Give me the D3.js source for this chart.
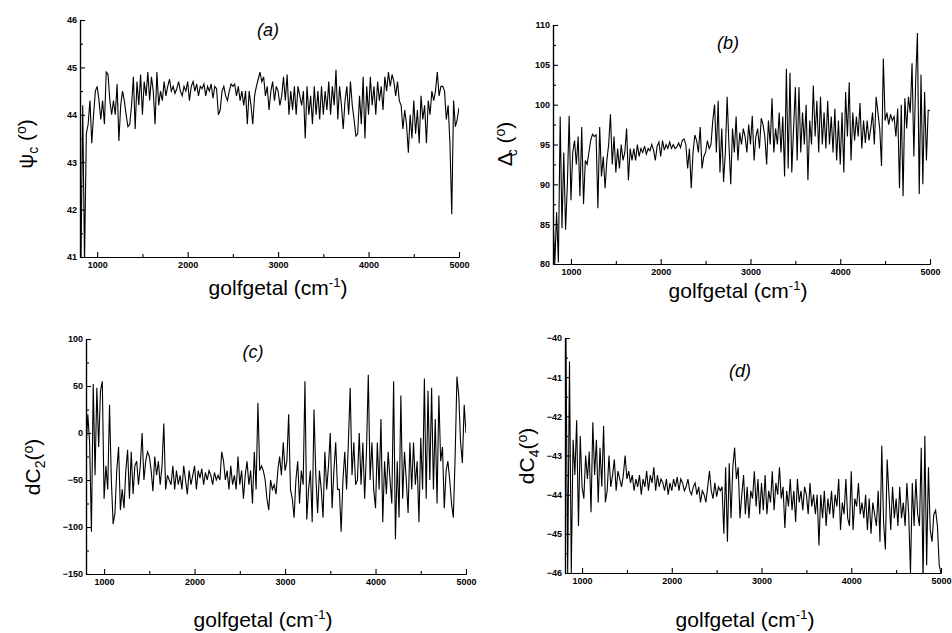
<!DOCTYPE html>
<html>
<head>
<meta charset="utf-8">
<script src="https://cdn.jsdelivr.net/npm/d3@7"></script>
<style>
  body { margin: 0; background: #fff; }
  svg { display: block; }
  text { font-family: "Liberation Sans", Arial, sans-serif; fill: #000; }
</style>
</head>
<body>
<svg id="chart" width="952" height="633"></svg>
<script>
// Sampling grid of the spectra (wavenumber, cm-1)
const wavenumbers = d3.range(800, 5001, 20);

// (a) Psi_c in degrees
const psiC = [
  44.2, 40.8, 44.2, 40.9, 43.6, 43.8, 44.3, 43.4, 44.0, 44.5,
  44.6, 44.3, 43.9, 44.3, 43.8, 44.9, 44.85, 44.3, 44.0, 44.3,
  44.0, 44.65, 43.45, 44.2, 44.5, 44.3, 44.0, 43.75, 43.8, 44.2,
  44.8, 43.7, 44.7, 44.2, 44.85, 44.0, 44.7, 44.4, 44.9, 44.3,
  44.8, 44.5, 43.8, 44.9, 44.2, 44.5, 44.3, 44.7, 44.4, 44.6,
  44.75, 44.5, 44.6, 44.45, 44.55, 44.7, 44.5, 44.4, 44.6, 44.5,
  44.7, 44.3, 44.6, 44.7, 44.5, 44.65, 44.4, 44.6, 44.55, 44.65,
  44.4, 44.6, 44.5, 44.65, 44.35, 44.6, 44.55, 44.0, 44.1, 44.5,
  44.6, 44.4, 44.3, 44.5, 44.65, 44.6, 44.65, 44.4, 44.6, 44.3,
  44.5, 44.2, 44.5, 43.8, 44.5, 44.2, 43.8, 44.4, 44.6, 44.75,
  44.9, 44.7, 44.8, 44.4, 44.6, 44.1, 44.5, 44.7, 44.3, 44.6,
  44.5, 44.2, 44.4, 44.8, 44.3, 44.85, 44.0, 44.5, 44.1, 44.6,
  44.0, 44.6, 44.4, 44.2, 44.5, 43.5, 44.6, 44.0, 44.4, 43.8,
  44.6, 44.0, 44.5, 43.9, 44.6, 44.0, 44.5, 44.1, 44.7, 44.0,
  44.6, 44.2, 44.95, 43.9, 44.6, 44.2, 43.7, 44.3, 44.6, 44.0,
  44.7, 44.2, 43.9, 43.55, 43.6, 44.4, 43.8, 44.8, 43.5, 44.6,
  44.0, 44.8, 44.2, 44.6, 44.0, 44.7, 44.3, 44.6, 44.1, 44.8,
  44.5, 44.9, 44.6, 44.85, 44.7, 44.4, 44.7, 44.3, 44.2, 43.7,
  44.1, 43.8, 43.2, 44.0, 43.5, 44.3, 43.6, 44.1, 43.4, 44.4,
  43.9, 44.2, 43.4, 44.3, 44.0, 44.5, 44.3, 44.5, 44.9, 44.4,
  44.6, 44.6, 44.5, 43.9, 44.2, 43.4, 41.9, 44.3, 43.75, 43.9,
  44.15
];

// (b) Delta_c in degrees
const deltaC = [
  86, 80, 86.5, 80.2, 98.5, 84.5, 94, 84.3, 90, 98.6,
  88, 94, 95.5, 92.5, 96, 88.5, 97.2, 87.5, 93, 92.5,
  94, 95.5, 96.3, 96, 96.2, 87, 97.2, 91, 93.5, 89.5,
  93, 95, 98.8, 92.5, 96, 91.5, 94.5, 92, 95, 93,
  94, 97, 90.5, 94.5, 93, 94.5, 93, 95, 93.5, 94.5,
  94, 94.8, 93.8, 94.5, 94.2, 95, 94.3, 93, 94.8, 95.3,
  93.5, 95.5, 94.3, 95, 94.5, 95.3, 94.5, 95, 94.5, 94.7,
  95.2, 94.6, 95.5, 95.7, 95.0, 92, 94.5, 89.5, 94, 96.2,
  95.5, 94, 97.2, 92, 93.5, 94, 95.5, 94.5, 95, 98,
  100, 94, 100.5, 91.5, 97, 90.3, 94, 101, 95, 90,
  97, 94, 98.5, 93, 96.5, 95, 97, 96, 94, 97.5,
  95, 98.6, 93, 96, 97, 94.5, 98.3, 97.5, 96, 92.5,
  98, 95, 100.8, 94, 97, 95, 99, 94, 98.5, 91,
  104.5, 92, 104, 91.5, 97, 102.2, 93, 102.2, 94, 99,
  95, 100, 90.5, 98, 95, 102.4, 96, 100.5, 94, 101,
  95, 99, 94.5, 100.5, 95, 98.5, 94, 99.5, 93, 98,
  92.5, 99, 91.5, 101.6, 96, 102.8, 93, 99, 95.5, 98.5,
  96, 100.2, 94.5, 98, 95.2, 98, 95.5, 97, 99, 95,
  101, 99, 97, 92.3, 105.8, 98, 99, 97.5, 98.8, 98,
  98.5, 96, 99.5, 89.5, 100, 88.5, 100.8, 97, 101, 99,
  105.2, 93.5, 102.8, 109, 88.8, 103.8, 90, 101.6, 93, 99.3,
  99.3
];

// (c) dC2 in degrees
const dC2 = [
  -20, 20, -10, -105, 52, -45, 48, -15, 45, 55,
  -70, -35, -60, 30, -50, -97, -85, -40, -15, -82,
  -60, -80, -40, -18, -70, -20, -65, -35, -30, -55,
  -35, 0, -50, -30, -20, -25, -40, -62, -25, -45,
  -30, -55, -35, 10, -60, -45, -50, -55, -35, -60,
  -40, -55, -45, -60, -35, -50, -65, -40, -55, -45,
  -35, -60, -40, -48, -38, -55, -42, -50, -40, -45,
  -55, -42, -50, -45, -50, -20, -30, -50, -40, -60,
  -35, -55, -45, -60, -25, -55, -40, -70, -45, -30,
  -55, -40, -75, -20, -60, 32, -40, -35, -40, -50,
  -70, -82, -50, -60, -55, -65, -40, -25, -45, -10,
  -40, -30, 20, -60, -70, -90, -50, -30, -75, -40,
  -55, 55, -92, -60, -40, -95, 25, -45, -85, -40,
  -60, -90, -20, -60, -35, 0, -80, -40, -10, -60,
  -60, -105, -50, -20, -60, -10, 48, -45, -10, -55,
  -50, 0, -55, -10, -70, -20, 62, -50, -10, -60,
  -80, -10, -60, 15, -95, -30, -65, -20, -50, -75,
  55, -113, -30, -90, 40, -70, -20, -50, -85, -10,
  -60, -10, -55, -30, -95, -5, -60, 58, -70, 45,
  -50, 48, -60, 15, -75, 40, -30, -15, -80, -40,
  -30, -50, -75, -90, -25, 60, 40, -10, -32, 30,
  0
];

// (d) dC4 in degrees
const dC4 = [
  -46, -40, -46, -40.6, -46, -42.6, -43.5, -42.1, -44.8, -42.5,
  -43.8, -44.1, -43.0, -43.6, -42.9, -44.45, -42.15, -43.5, -42.6, -44.2,
  -42.8, -43.8, -42.25, -44.2, -43.9, -43.0, -43.8, -43.5, -43.1, -43.9,
  -43.4, -43.6, -43.8, -43.5, -43.0, -43.6, -43.4, -43.7, -43.5, -43.9,
  -43.6, -43.8, -43.5, -44.0, -43.6, -43.8, -43.4, -43.9, -43.5, -43.7,
  -43.3, -43.9, -43.5, -43.8, -43.6, -43.7, -43.9, -43.6, -44.0, -43.7,
  -43.9, -43.6, -43.8, -43.55, -43.9, -43.6, -43.7, -43.9, -43.8, -43.6,
  -43.9, -44.0, -43.8, -43.7, -44.0, -43.8, -44.2, -43.9, -44.0, -44.2,
  -43.8, -43.4, -43.9, -44.1, -43.7, -44.05, -43.8, -43.9, -43.8, -45.0,
  -43.3, -45.2, -43.2, -44.6, -43.3, -42.8, -43.6, -43.3, -44.6, -44.0,
  -43.5, -44.5, -43.8, -44.6, -43.9, -44.1, -43.4, -44.3, -43.6, -44.5,
  -43.7, -44.4, -43.5, -44.5, -43.9, -44.2, -43.4, -44.4, -43.7, -44.0,
  -43.3, -44.1, -43.8, -44.85, -43.9, -44.3, -43.6, -44.4, -43.9, -44.7,
  -43.6, -44.2, -43.9, -44.4, -43.8, -44.0, -44.5, -43.7, -44.3, -44.0,
  -44.5, -44.0, -45.3, -44.0, -44.6, -43.9, -44.8, -44.1, -44.5, -43.9,
  -44.6, -44.0, -44.3, -43.6, -44.9, -44.2, -44.5, -43.6, -44.6, -44.8,
  -43.4, -44.9, -44.1, -44.3, -43.7, -44.5, -44.2, -44.6, -44.0, -44.9,
  -44.1, -45.0, -44.2, -44.5, -44.8, -43.9, -45.2, -42.75, -44.7, -45.4,
  -43.1, -44.0, -44.9, -43.8, -44.6, -44.1, -44.8, -43.8, -44.6, -44.2,
  -44.8, -43.7, -44.5, -46.0, -43.7, -44.8, -43.6, -44.5, -44.8, -42.8,
  -46.2, -42.5, -45.8, -43.3, -44.9, -45.2, -44.5, -44.4, -44.8, -45.8,
  -46.0
];

// Tick values
const xTicks = [1000, 2000, 3000, 4000, 5000];
const xMinorTicks = [1500, 2500, 3500, 4500];
const psiTicks = [41, 42, 43, 44, 45, 46];
const psiMinor = [41.5, 42.5, 43.5, 44.5, 45.5];
const deltaTicks = [80, 85, 90, 95, 100, 105, 110];
const deltaMinor = [82.5, 87.5, 92.5, 97.5, 102.5, 107.5];
const dC2Ticks = [-150, -100, -50, 0, 50, 100];
const dC2Minor = [-125, -75, -25, 25, 75];
const dC4Ticks = [-46, -45, -44, -43, -42, -41, -40];
const dC4Minor = [-45.5, -44.5, -43.5, -42.5, -41.5, -40.5];

const xLabel = "golfgetal (cm";

const panels = [
  { key: "a", values: psiC, yTicks: psiTicks, yMinor: psiMinor,
    xDomain: [810, 5000], yDomain: [41, 46],
    left: 80, right: 459, top: 20, bottom: 257,
    tag: [268, 36], xTitle: [278, 295], yTitle: [33, 144],
    sym: "\u03C8", sub: "c", subDx: 0, ySpace: " (" },
  { key: "b", values: deltaC, yTicks: deltaTicks, yMinor: deltaMinor,
    xDomain: [800, 5000], yDomain: [80, 110],
    left: 553, right: 930, top: 25, bottom: 264,
    tag: [728, 49], xTitle: [738, 298], yTitle: [512, 144],
    sym: "\u0394", sub: "c", subDx: -4, ySpace: " (" },
  { key: "c", values: dC2, yTicks: dC2Ticks, yMinor: dC2Minor,
    xDomain: [800, 5000], yDomain: [-150, 100],
    left: 86, right: 466, top: 339, bottom: 574,
    tag: [253, 358], xTitle: [263, 627], yTitle: [40, 467],
    sym: "dC", sub: "2", subDx: 0, ySpace: "(" },
  { key: "d", values: dC4, yTicks: dC4Ticks, yMinor: dC4Minor,
    xDomain: [810, 5000], yDomain: [-46, -40],
    left: 565, right: 941, top: 338, bottom: 573,
    tag: [740, 377], xTitle: [745, 627], yTitle: [534, 456],
    sym: "dC", sub: "4", subDx: 0, ySpace: "(" }
];

const svg = d3.select("#chart");

panels.forEach(p => {
  const g = svg.append("g").attr("class", "panel-" + p.key);
  const x = d3.scaleLinear().domain(p.xDomain).range([p.left, p.right]);
  const y = d3.scaleLinear().domain(p.yDomain).range([p.bottom, p.top]);

  // clip to plot area
  const clipId = "clip-" + p.key;
  svg.append("clipPath").attr("id", clipId)
    .append("rect")
    .attr("x", p.left).attr("y", p.top)
    .attr("width", p.right - p.left).attr("height", p.bottom - p.top);

  const line = d3.line()
    .x((d, i) => x(wavenumbers[i]))
    .y(d => y(d));

  g.append("path")
    .datum(p.values)
    .attr("clip-path", `url(#${clipId})`)
    .attr("fill", "none")
    .attr("stroke", "#000")
    .attr("stroke-width", 1.1)
    .attr("stroke-linejoin", "miter")
    .attr("d", line);

  // axes: ticks point inward
  const yAxis = d3.axisLeft(y).tickValues(p.yTicks).tickSizeInner(-5).tickSizeOuter(0)
    .tickPadding(3).tickFormat(d3.format("d"));
  const yMinorAxis = d3.axisLeft(y).tickValues(p.yMinor).tickSizeInner(-3).tickSizeOuter(0)
    .tickFormat("");
  const xAxis = d3.axisBottom(x).tickValues(xTicks).tickSizeInner(-5).tickSizeOuter(0)
    .tickPadding(5).tickFormat(d3.format("d"));
  const xMinorAxis = d3.axisBottom(x).tickValues(xMinorTicks).tickSizeInner(-3).tickSizeOuter(0)
    .tickFormat("");

  const styleAxis = sel => {
    sel.selectAll("path.domain").attr("stroke", "#000").attr("stroke-width", 1.2);
    sel.selectAll(".tick line").attr("stroke", "#000").attr("stroke-width", 1.1);
    sel.selectAll(".tick text")
      .attr("font-family", "'Liberation Sans', Arial, sans-serif")
      .attr("font-size", 9).attr("font-weight", "bold").attr("fill", "#000");
  };

  g.append("g").attr("transform", `translate(${p.left},0)`).call(yMinorAxis).call(styleAxis);
  g.append("g").attr("transform", `translate(${p.left},0)`).call(yAxis).call(styleAxis);
  g.append("g").attr("transform", `translate(0,${p.bottom})`).call(xMinorAxis).call(styleAxis);
  g.append("g").attr("transform", `translate(0,${p.bottom})`).call(xAxis).call(styleAxis);

  // panel tag
  g.append("text")
    .attr("x", p.tag[0]).attr("y", p.tag[1])
    .attr("text-anchor", "middle")
    .attr("font-size", 18).attr("font-style", "italic")
    .text(`(${p.key})`);

  // x title with superscript -1
  const xt = g.append("text")
    .attr("x", p.xTitle[0]).attr("y", p.xTitle[1])
    .attr("text-anchor", "middle")
    .attr("font-size", 21);
  xt.append("tspan").text(xLabel);
  xt.append("tspan").attr("font-size", 13).attr("dy", -8).text("-1");
  xt.append("tspan").attr("dy", 8).text(")");

  // y title, rotated
  const yt = g.append("text")
    .attr("transform", `translate(${p.yTitle[0]},${p.yTitle[1]}) rotate(-90)`)
    .attr("text-anchor", "middle")
    .attr("font-size", 21);
  yt.append("tspan").text(p.sym);
  yt.append("tspan").attr("font-size", 14).attr("dx", p.subDx).attr("dy", 5).text(p.sub);
  yt.append("tspan").attr("dy", -5).text(p.ySpace);
  yt.append("tspan").attr("font-size", 14).attr("dy", -7).text("o");
  yt.append("tspan").attr("dy", 7).text(")");
});
</script>
</body>
</html>
